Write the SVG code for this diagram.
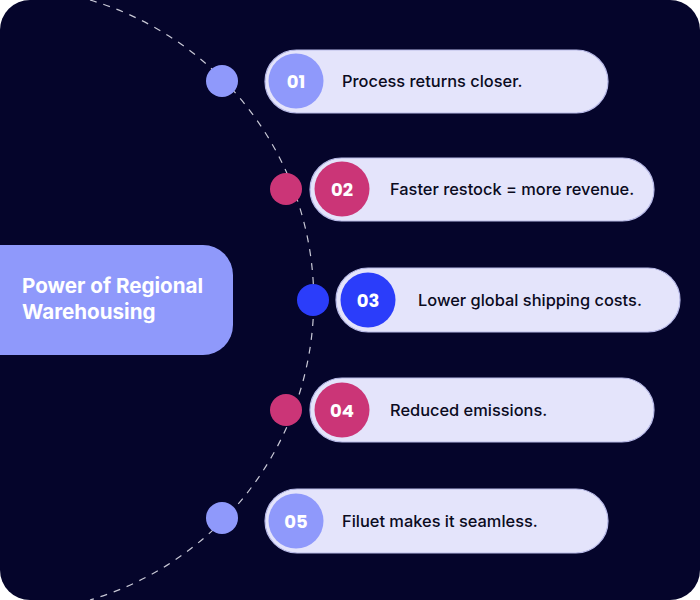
<svg xmlns="http://www.w3.org/2000/svg" width="700" height="600" viewBox="0 0 700 600">
<style>
.pill{fill:#e4e4fb;stroke:#b9bbe8;stroke-width:1.2}
.num{font-family:"Poppins","Inter","Liberation Sans",sans-serif;font-weight:700;font-size:18px;fill:#ffffff;text-anchor:middle}
.lbl{font-family:"Inter","Liberation Sans",sans-serif;font-weight:500;font-size:16.4px;fill:#0b0b1e}
.title{font-family:"Inter","Liberation Sans",sans-serif;font-weight:700;font-size:20.6px;fill:#ffffff}
.c1{fill:#8f99fb}.c2{fill:#cb3577}.c3{fill:#2b3dfa}
</style>
<rect x="0" y="0" width="700" height="600" fill="#ffffff"/>
<rect x="0" y="0" width="700" height="600" rx="30" fill="#05052b"/>
<g id="connectors">
<path d="M 90 0 A 313 313 0 0 1 90 600" fill="none" stroke="#c9c9d6" stroke-width="1.2" stroke-dasharray="7 7"/>
</g>
<g id="center">
<path d="M 0 245 H 203 A 30 30 0 0 1 233 275 V 325 A 30 30 0 0 1 203 355 H 0 Z" fill="#8f99fb"/>
<text class="title" x="22" y="293">Power of Regional</text>
<text class="title" x="22" y="319">Warehousing</text>
</g>
<g id="item1">
<circle class="c1" cx="222" cy="81" r="16"/>
<rect class="pill" x="265" y="50" width="343" height="63" rx="31.5"/>
<circle class="c1" cx="296" cy="81" r="27.5"/>
<text class="num" x="296" y="87.5">01</text>
<text class="lbl" x="342" y="86.5">Process returns closer.</text>
</g>
<g id="item2">
<circle class="c2" cx="286" cy="189" r="16"/>
<rect class="pill" x="310" y="158" width="344" height="63" rx="31.5"/>
<circle class="c2" cx="342" cy="189" r="27.5"/>
<text class="num" x="342" y="195.5">02</text>
<text class="lbl" x="390" y="194.5">Faster restock = more revenue.</text>
</g>
<g id="item3">
<circle class="c3" cx="313" cy="300" r="16"/>
<rect class="pill" x="336" y="268" width="344" height="64" rx="32"/>
<circle class="c3" cx="368" cy="300" r="27.5"/>
<text class="num" x="368" y="306.5">03</text>
<text class="lbl" x="418" y="305.5">Lower global shipping costs.</text>
</g>
<g id="item4">
<circle class="c2" cx="286" cy="410" r="16"/>
<rect class="pill" x="310" y="378" width="344" height="64" rx="32"/>
<circle class="c2" cx="342" cy="410" r="27.5"/>
<text class="num" x="342" y="416.5">04</text>
<text class="lbl" x="390" y="415.5">Reduced emissions.</text>
</g>
<g id="item5">
<circle class="c1" cx="222" cy="518" r="16"/>
<rect class="pill" x="265" y="489" width="343" height="64" rx="32"/>
<circle class="c1" cx="296" cy="521" r="27.5"/>
<text class="num" x="296" y="527.5">05</text>
<text class="lbl" x="342" y="526.5">Filuet makes it seamless.</text>
</g>
</svg>
